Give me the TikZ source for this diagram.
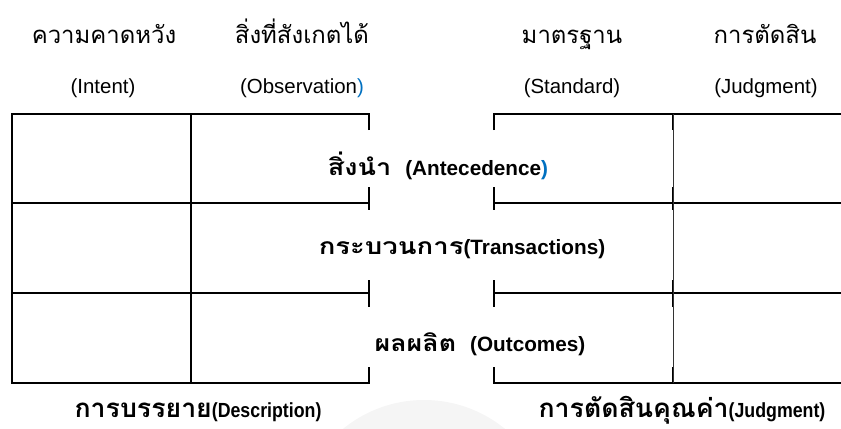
\documentclass[tikz,border=0pt]{standalone}
\usepackage{fontspec}
\setmainfont{Liberation Sans}
\newfontfamily\thaifont[Script=Thai]{Loma}
\definecolor{parblue}{RGB}{0,112,192}
\newcommand\tht[1]{{\thaifont #1}}
\newcommand\thw[3]{\scalebox{#2}[1]{\fontsize{#1}{#1}\selectfont\thaifont #3}}
\newcommand\bp{{\color{parblue})}}
\begin{document}
\begin{tikzpicture}[x=1bp,y=-1bp,
  gl/.style={line width=1.8bp, black},
  gthin/.style={line width=0.9bp, black!80},
  toplab/.style={anchor=base, inner sep=0pt, font=\fontsize{24}{28}\selectfont},
  enlab/.style={anchor=base, inner sep=0pt, font=\fontsize{20.5}{24}\selectfont},
  midlab/.style={anchor=base, inner sep=0pt, font=\fontsize{20.8}{24}\selectfont\bfseries},
  botlab/.style={anchor=base, inner sep=0pt, font=\fontsize{20.5}{24}\selectfont\bfseries}]
\useasboundingbox (0,0) rectangle (841,428);
% faint watermark
\begin{scope}
  \clip (0,0) rectangle (841,428);
  \fill[gray!8] (424,528) circle (128);
\end{scope}
% ---- left block
\draw[gl] (369,130) -- (369,114) -- (12,114) -- (12,383) -- (369,383) -- (369,367);
\draw[gl] (12,203) -- (369,203);
\draw[gl] (12,293) -- (369,293);
\draw[gl] (191,114) -- (191,383);
\draw[gl] (369,187) -- (369,210);
\draw[gl] (369,280) -- (369,307);
% ---- right block
\draw[gl] (494,130) -- (494,114) -- (845,114);
\draw[gl] (494,367) -- (494,383) -- (845,383);
\draw[gl] (494,203) -- (845,203);
\draw[gl] (494,293) -- (845,293);
\draw[gl] (494,187) -- (494,210);
\draw[gl] (494,280) -- (494,307);
\draw[gthin] (673,114) -- (673,383);
\foreach \a/\b in {114/130,187/210,280/307,367/383}
  \draw[gl] (672.5,\a) -- (672.5,\b);
% ---- top labels
\node[toplab] (t1) at (104,43) {\tht{ความคาดหวัง}};
\node[toplab] (t2) at (302,43) {\tht{สิ่งที่สังเกตได้}};
\node[toplab] (t3) at (572,43) {\tht{มาตรฐาน}};
\node[toplab] (t4) at (765,43) {\tht{การตัดสิน}};
\node[enlab] (e1) at (103,93) {(Intent)};
\node[enlab] (e2) at (302,93) {(Observation\bp};
\node[enlab] (e3) at (572,93) {(Standard)};
\node[enlab] (e4) at (766,93) {(Judgment)};
% ---- middle labels
\node[midlab] (m1) at (438,175) {\thw{23}{1.18}{สิ่งนำ}\hspace{14bp}(Antecedence\bp};
\node[midlab] (m2) at (462,254) {\thw{23}{1.2}{กระบวนการ}(Transactions)};
\node[midlab] (m3) at (480,351) {\thw{23}{1.17}{ผลผลิต}\hspace{14bp}(Outcomes)};
% ---- bottom labels
\node[botlab] (b1) at (198,417) {\thw{26}{1.03}{การบรรยาย}\scalebox{0.87}[1]{(Description)}};
\node[botlab] (b2) at (682,417) {\thw{26}{1.03}{การตัดสินคุณค่า}\scalebox{0.87}[1]{(Judgment)}};
\end{tikzpicture}
\end{document}
